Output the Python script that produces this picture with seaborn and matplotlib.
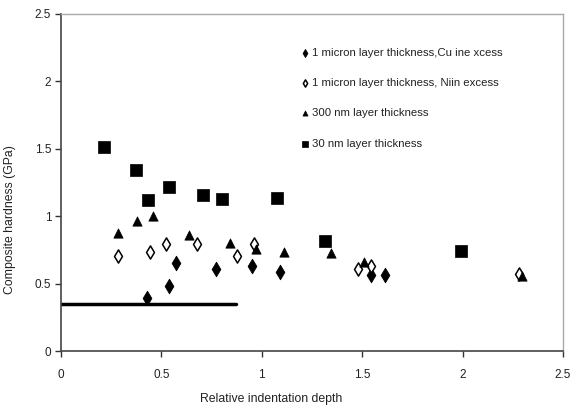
import matplotlib
matplotlib.use("Agg")
import matplotlib.pyplot as plt
import seaborn as sns
import pandas as pd

# ---- data ----
cu_x = [0.427, 0.539, 0.571, 0.770, 0.953, 1.091, 1.544, 1.614]
cu_y = [0.396, 0.483, 0.652, 0.609, 0.634, 0.585, 0.565, 0.565]

ni_x = [0.282, 0.443, 0.523, 0.676, 0.875, 0.963, 1.481, 1.542, 2.281]
ni_y = [0.706, 0.733, 0.795, 0.793, 0.706, 0.795, 0.609, 0.634, 0.572]

nm300_x = [0.282, 0.378, 0.458, 0.636, 0.842, 0.970, 1.112, 1.345, 1.510, 2.294]
nm300_y = [0.874, 0.961, 0.998, 0.862, 0.800, 0.758, 0.733, 0.726, 0.659, 0.559]

nm30_x = [0.214, 0.372, 0.435, 0.539, 0.706, 0.803, 1.077, 1.315, 1.992]
nm30_y = [1.516, 1.345, 1.122, 1.220, 1.159, 1.127, 1.134, 0.817, 0.743]

ref_line_x = [0.0, 0.87]
ref_line_y = [0.35, 0.35]

labels = ["1 micron layer thickness,Cu ine xcess",
          "1 micron layer thickness, Niin excess",
          "300 nm layer thickness",
          "30 nm layer thickness"]

x_ticks = [0, 0.5, 1, 1.5, 2, 2.5]
x_tick_labels = ["0", "0.5", "1", "1.5", "2", "2.5"]
y_ticks = [0, 0.5, 1, 1.5, 2, 2.5]
y_tick_labels = ["0", "0.5", "1", "1.5", "2", "2.5"]

# ---- plot ----
sns.set_theme(style="white")
plt.rcParams['font.family'] = ['Liberation Sans', 'DejaVu Sans']

fig = plt.figure(figsize=(5.72, 4.07), dpi=100)
ax = fig.add_axes([61/572, 1-351/407, (563-61)/572, (351-14)/407])

sns.scatterplot(x=cu_x, y=cu_y, marker="d", s=55, color="black",
                edgecolor="black", linewidth=0.6, label=labels[0], ax=ax, zorder=3)
sns.scatterplot(x=ni_x, y=ni_y, marker="d", s=45, facecolor="white",
                edgecolor="black", linewidth=1.1, label=labels[1], ax=ax, zorder=3)
sns.scatterplot(x=nm300_x, y=nm300_y, marker="^", s=45, color="black",
                edgecolor="black", linewidth=0.5, label=labels[2], ax=ax, zorder=3)
sns.scatterplot(x=nm30_x, y=nm30_y, marker="s", s=78, color="black",
                edgecolor="black", linewidth=0.5, label=labels[3], ax=ax, zorder=3)
sns.lineplot(x=ref_line_x, y=ref_line_y, color="black", linewidth=2.5, ax=ax, zorder=2)

ax.set_xlim(0, 2.5)
ax.set_ylim(0, 2.5)
ax.set_xticks(x_ticks)
ax.set_xticklabels(x_tick_labels)
ax.set_yticks(y_ticks)
ax.set_yticklabels(y_tick_labels)
ax.tick_params(axis="both", which="major", direction="out", length=4, width=1,
               color="#333333", labelsize=8.5, labelcolor="#222222", pad=3,
               bottom=True, left=True)
ax.tick_params(axis="x", pad=9)

for side in ["left", "bottom"]:
    ax.spines[side].set_color("#444444")
    ax.spines[side].set_linewidth(1.2)
for side in ["top", "right"]:
    ax.spines[side].set_color("#aaaaaa")
    ax.spines[side].set_linewidth(1.0)

ax.set_xlabel("Relative indentation depth", fontsize=8.8, color="#222222")
ax.set_ylabel("Composite hardness (GPa)", fontsize=8.8, color="#222222")
ax.xaxis.set_label_coords(0.418, -0.125)
ax.yaxis.set_label_coords(-0.09, 0.39)

# legend
handles, lbls = ax.get_legend_handles_labels()
leg = ax.legend(handles[:4], lbls[:4], loc="upper left",
                bbox_to_anchor=((296-61)/502, (351-42)/337),
                frameon=False, fontsize=8.2, markerscale=0.55,
                handlelength=0.6, handletextpad=0.3, labelspacing=1.78,
                borderpad=0.0)
for t in leg.get_texts():
    t.set_color("#222222")

fig.savefig("out.png", dpi=100)
